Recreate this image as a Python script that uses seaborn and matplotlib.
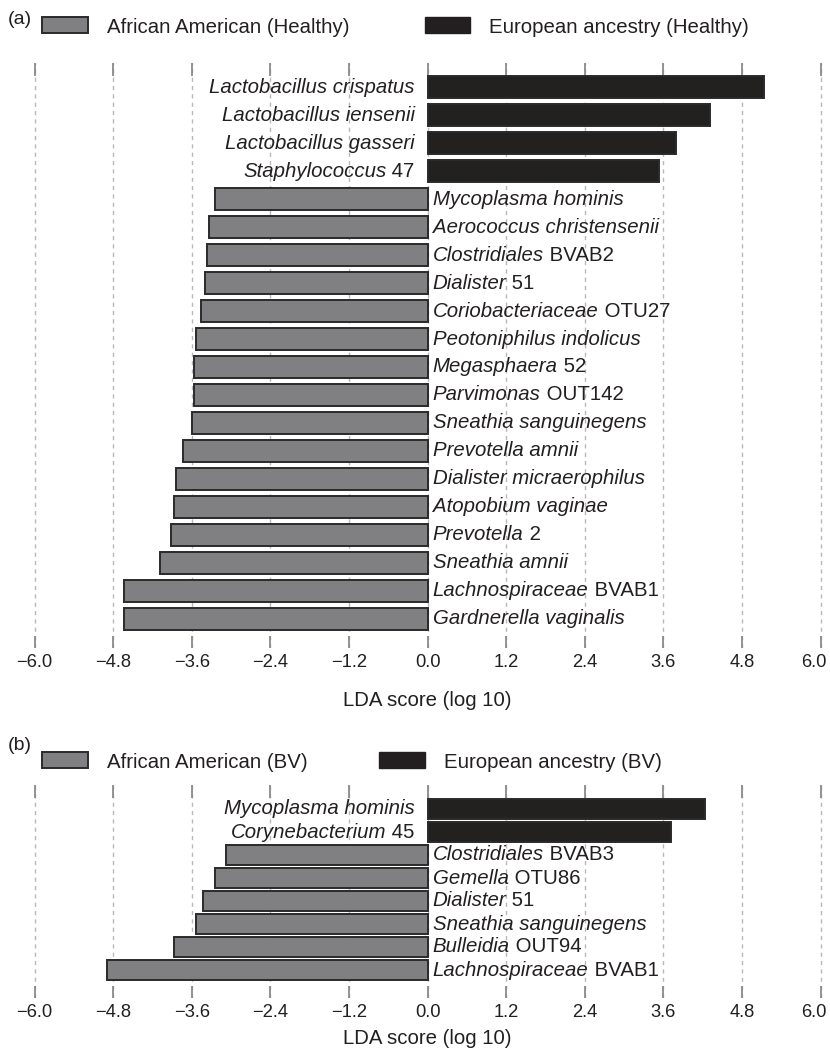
import matplotlib
matplotlib.use("Agg")
import matplotlib.pyplot as plt
import matplotlib.transforms as mtransforms
import seaborn as sns
import pandas as pd
from matplotlib import font_manager
from matplotlib.patches import Patch

# ---------------- data ----------------
a_italic = ["Lactobacillus crispatus", "Lactobacillus iensenii", "Lactobacillus gasseri",
            "Staphylococcus", "Mycoplasma hominis", "Aerococcus christensenii",
            "Clostridiales", "Dialister", "Coriobacteriaceae", "Peotoniphilus indolicus",
            "Megasphaera", "Parvimonas", "Sneathia sanguinegens", "Prevotella amnii",
            "Dialister micraerophilus", "Atopobium vaginae", "Prevotella", "Sneathia amnii",
            "Lachnospiraceae", "Gardnerella vaginalis"]
a_roman = ["", "", "", "47", "", "", "BVAB2", "51", "OTU27", "", "52", "OUT142", "", "",
           "", "", "2", "", "BVAB1", ""]
a_scores = [5.13, 4.31, 3.79, 3.54, -3.25, -3.33, -3.37, -3.40, -3.46, -3.54, -3.56, -3.57,
            -3.60, -3.73, -3.84, -3.87, -3.91, -4.08, -4.64, -4.64]

b_italic = ["Mycoplasma hominis", "Corynebacterium", "Clostridiales", "Gemella", "Dialister",
            "Sneathia sanguinegens", "Bulleidia", "Lachnospiraceae"]
b_roman = ["", "45", "BVAB3", "OTU86", "51", "", "OUT94", "BVAB1"]
b_scores = [4.23, 3.71, -3.08, -3.25, -3.43, -3.53, -3.87, -4.90]

a_groups = ["African American (Healthy)", "European ancestry (Healthy)"]
b_groups = ["African American (BV)", "European ancestry (BV)"]
x_ticks = [-6.0, -4.8, -3.6, -2.4, -1.2, 0.0, 1.2, 2.4, 3.6, 4.8, 6.0]
x_label = "LDA score (log 10)"

GRAY = "#808082"
BLACK = "#231f20"
EDGE = "#2a2a2a"
TXT = "#231f20"

# ---------------- style ----------------
sns.set_theme(style="white")


def pick_font():
    for fam in ["Liberation Sans", "Arimo", "Roboto"]:
        try:
            font_manager.findfont(font_manager.FontProperties(family=fam),
                                  fallback_to_default=False)
            return fam
        except Exception:
            continue
    return "DejaVu Sans"


FONT = pick_font()
plt.rcParams["font.family"] = [FONT, "DejaVu Sans"]
FS = 14.7      # labels, legend, axis title
FS_TICK = 13.2

W, H = 830, 1055
fig = plt.figure(figsize=(W / 100, H / 100), dpi=100)

PX_PER_UNIT = 786 / 12.0
X_AT_M6 = 34.6
XMARG = 0.15
ax_left = (X_AT_M6 - XMARG * PX_PER_UNIT) / W
ax_width = (12 + 2 * XMARG) * PX_PER_UNIT / W


def make_panel(top_px, bot_px, italic, roman, scores, groups, first_c, spacing, bw,
               legend_y, tag, tag_y, xlabel_y, colspace):
    ax = fig.add_axes([ax_left, (H - bot_px) / H, ax_width, (bot_px - top_px) / H])
    labels = [(i + " " + r).strip() for i, r in zip(italic, roman)]
    grp = [groups[1] if s > 0 else groups[0] for s in scores]
    df = pd.DataFrame({"label": labels, "score": scores, "group": grp})
    sns.barplot(data=df, x="score", y="label", hue="group", order=labels,
                hue_order=groups, palette={groups[0]: GRAY, groups[1]: BLACK},
                dodge=False, width=bw, edgecolor=EDGE, linewidth=1.4,
                orient="h", legend=False, ax=ax, zorder=2)
    y_top = -(first_c - top_px) / spacing
    y_bot = y_top + (bot_px - top_px) / spacing
    ax.set_ylim(y_bot, y_top)
    ax.set_xlim(-6 - XMARG, 6 + XMARG)
    for sp in ax.spines.values():
        sp.set_visible(False)
    ax.set_xticks(x_ticks)
    ax.set_xticklabels([f"{t:.1f}".replace("-", "\u2212") for t in x_ticks])
    ax.tick_params(axis="x", which="both", direction="in", top=True, bottom=True,
                   length=9, width=1.3, color="#8a8a8a", labelsize=FS_TICK,
                   labelcolor=TXT, pad=4)
    ax.tick_params(axis="y", left=False, labelleft=False)
    ax.set_ylabel("")
    # last tick label nudged left so it stays inside the canvas
    last = ax.get_xticklabels()[-1]
    last.set_transform(last.get_transform() +
                       mtransforms.ScaledTranslation(-7 / 100, 0, fig.dpi_scale_trans))
    ax.grid(axis="x", linestyle=(0, (3, 3)), color="black", alpha=0.28, lw=1.0)
    ax.grid(axis="y", visible=False)
    for gl in ax.get_xgridlines():
        gl.set_zorder(3)

    # labels next to zero
    for k, (it, rm, s) in enumerate(zip(italic, roman, scores)):
        if s < 0:
            t = ax.text(0.08, k, it, style="italic", ha="left", va="center",
                        fontsize=FS, color=TXT, zorder=4)
            if rm:
                ax.annotate(" " + rm, xy=(1, 0), xycoords=t, ha="left", va="bottom",
                            fontsize=FS, color=TXT, zorder=4)
        else:
            if rm:
                t = ax.text(-0.2, k, " " + rm, ha="right", va="center",
                            fontsize=FS, color=TXT, zorder=4)
                ax.annotate(it, xy=(0, 0), xycoords=t, ha="right", va="bottom",
                            style="italic", fontsize=FS, color=TXT, zorder=4)
            else:
                ax.text(-0.2, k, it, style="italic", ha="right", va="center",
                        fontsize=FS, color=TXT, zorder=4)

    ax.set_xlabel(x_label, fontsize=FS, color=TXT)
    ax.xaxis.set_label_coords(0.5, -(xlabel_y - bot_px) / (bot_px - top_px))
    ax.xaxis.label.set_va("center")

    handles = [Patch(facecolor=GRAY, edgecolor=EDGE, linewidth=1.4),
               Patch(facecolor=BLACK, edgecolor=BLACK, linewidth=1.0)]
    fig.legend(handles, groups, ncol=2, loc="center left",
               bbox_to_anchor=(42 / W, 1 - legend_y / H), frameon=False,
               borderpad=0, borderaxespad=0, fontsize=FS,
               handlelength=2.25, handleheight=0.83, handletextpad=0.93,
               columnspacing=colspace, labelcolor=TXT)
    fig.text(8 / W, 1 - tag_y / H, tag, fontsize=FS - 0.7, va="center", ha="left",
             color=TXT)
    return ax


make_panel(63, 648, a_italic, a_roman, a_scores, a_groups, 87, 28.0, 0.82,
           27, "(a)", 20, 700, 3.68)
make_panel(785, 998, b_italic, b_roman, b_scores, b_groups, 809, 23.0, 0.86,
           762, "(b)", 745, 1038, 3.5)

fig.savefig("out.png", dpi=100)
